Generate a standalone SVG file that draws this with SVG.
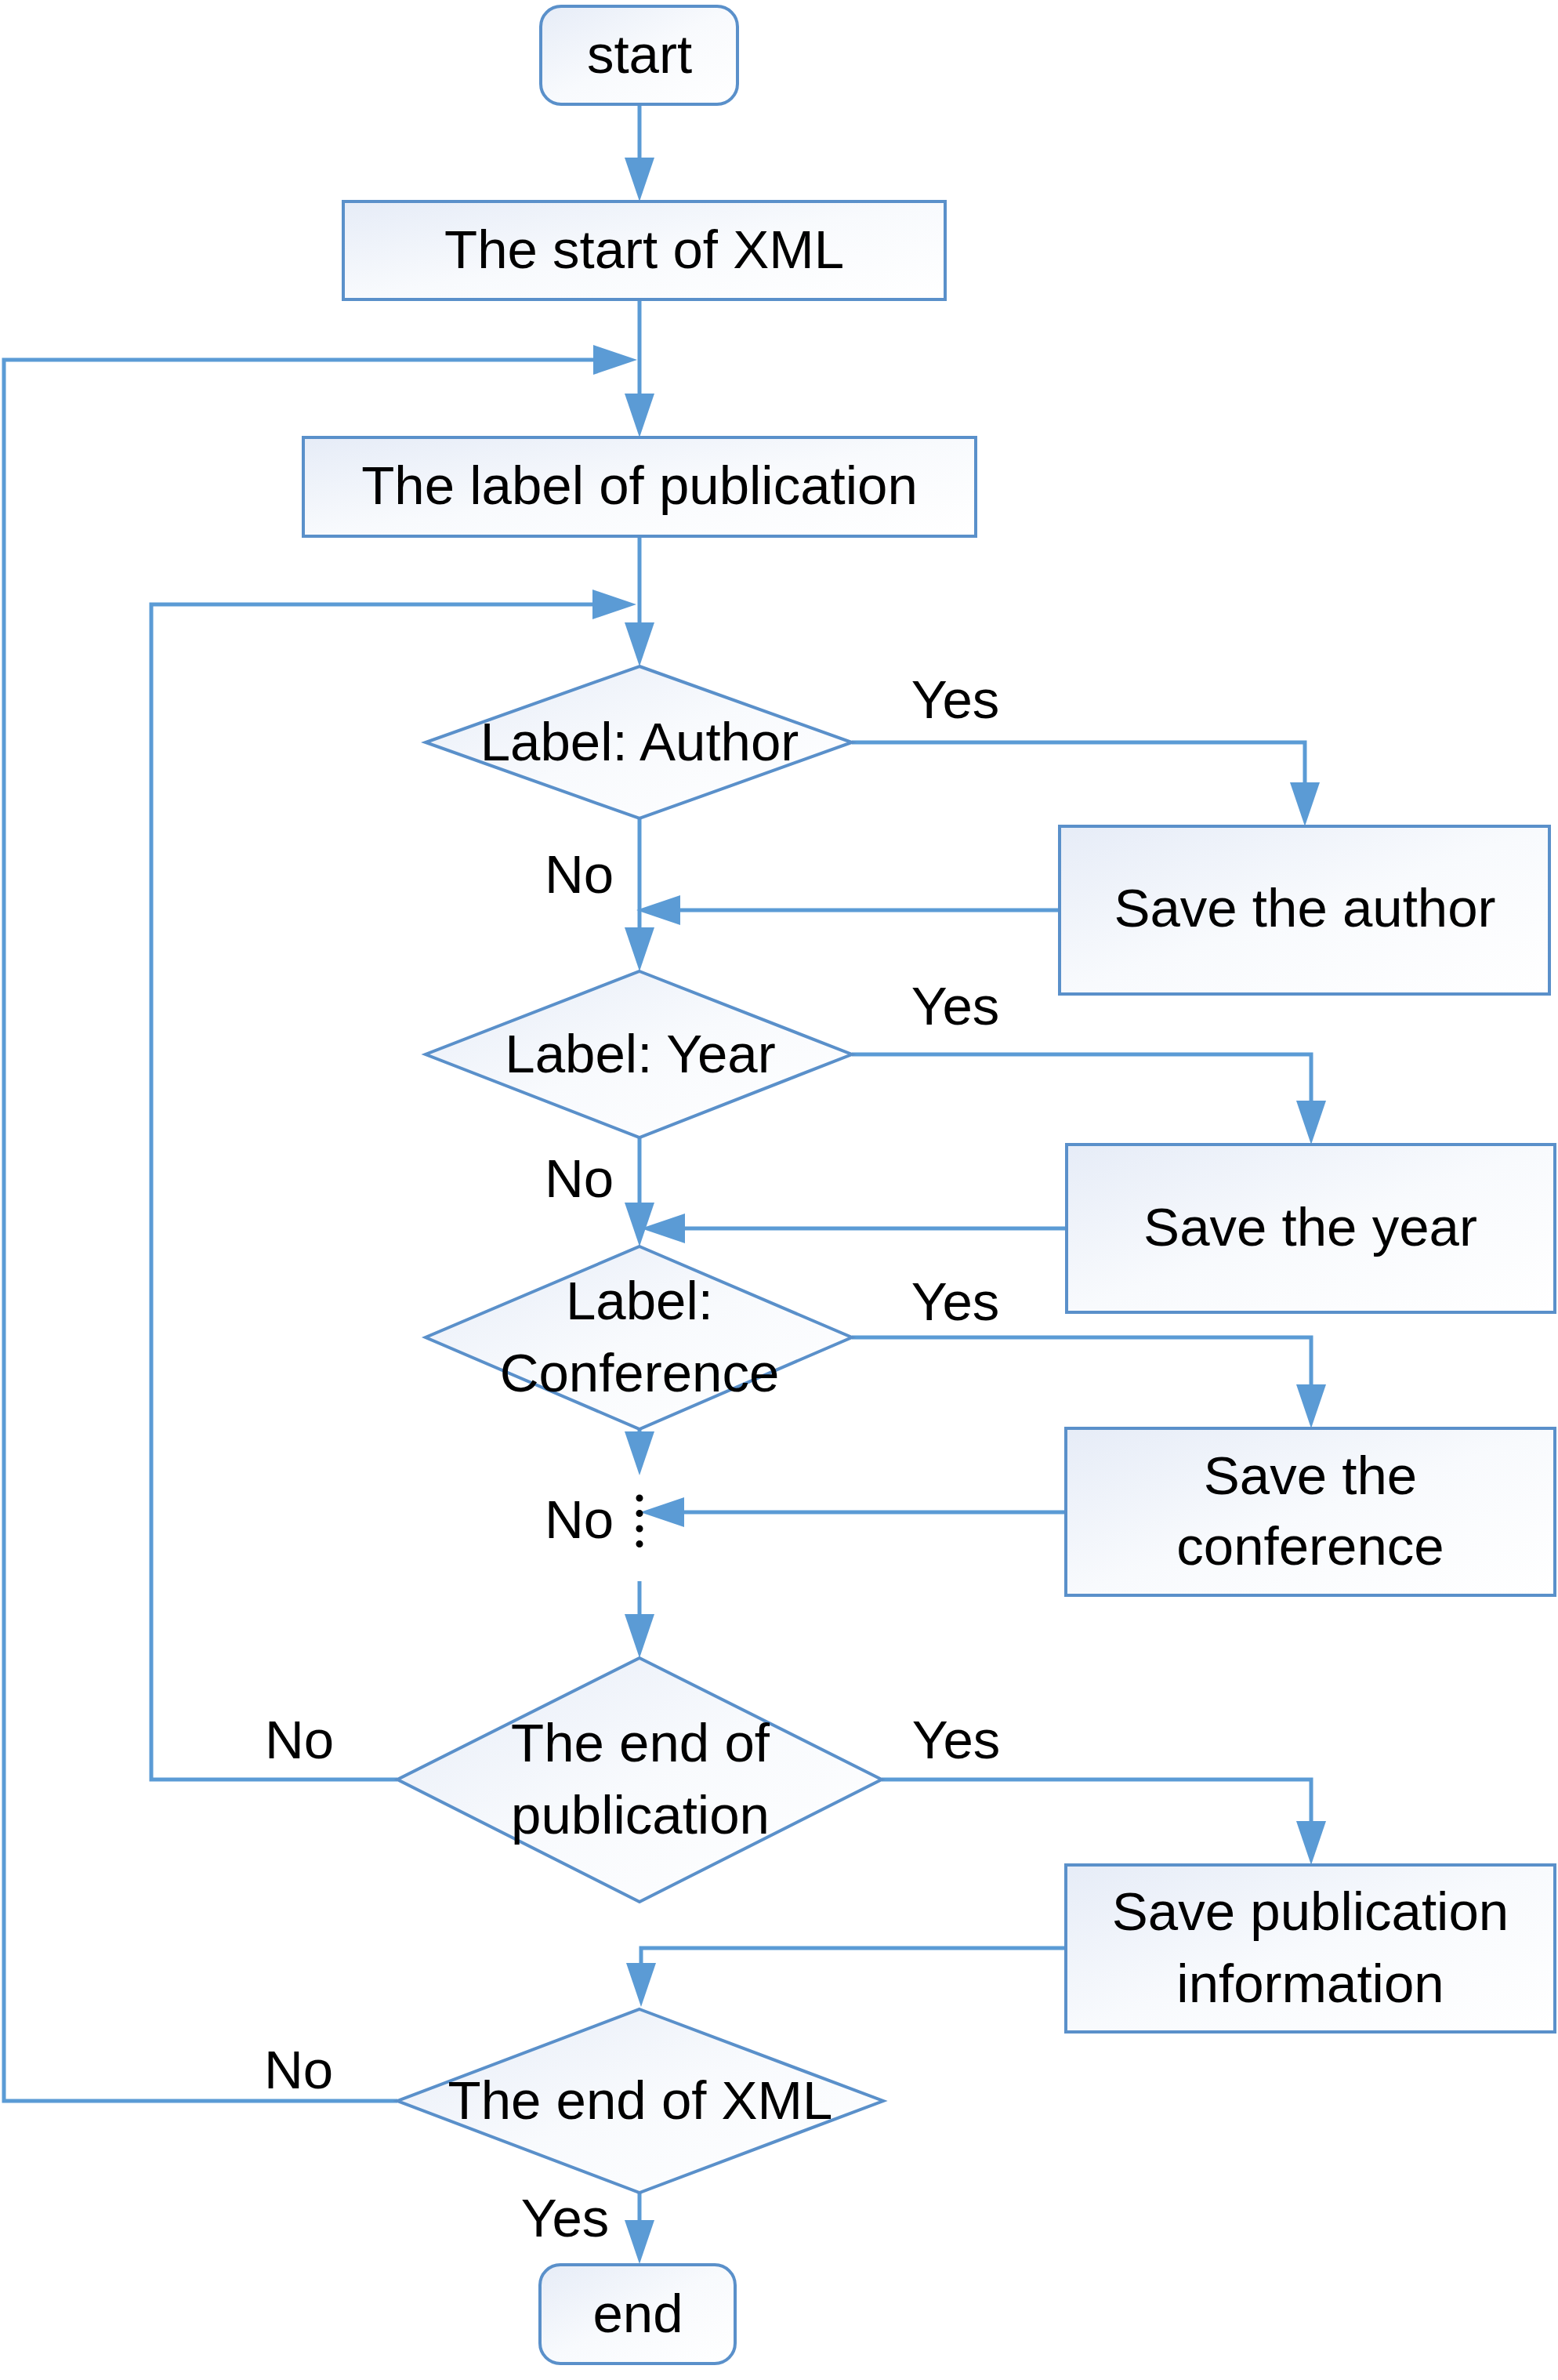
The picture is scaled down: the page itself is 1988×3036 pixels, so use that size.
<svg xmlns="http://www.w3.org/2000/svg" width="1988" height="3036" viewBox="0 0 1988 3036">
<defs>
<linearGradient id="fillg" x1="0" y1="0" x2="1" y2="1">
<stop offset="0" stop-color="#E6ECF7"/>
<stop offset="0.5" stop-color="#F8FAFD"/>
<stop offset="1" stop-color="#FFFFFF"/>
</linearGradient>
<marker id="arr" viewBox="0 0 56 38" refX="36" refY="19" markerWidth="56" markerHeight="38" markerUnits="userSpaceOnUse" orient="auto">
<path d="M0,0 L56,19 L0,38 Z" fill="#5B9BD5"/>
</marker>
</defs>
<style>
.node{fill:url(#fillg);stroke:#5A90CA;stroke-width:4}
.t{font-family:"Liberation Sans",Arial,sans-serif;font-size:69px;fill:#000;text-anchor:middle}
.c{fill:none;stroke:#5B9BD5;stroke-width:5}
.ca{fill:none;stroke:#5B9BD5;stroke-width:5;marker-end:url(#arr)}
</style>
<rect width="1988" height="3036" fill="#FFFFFF"/>

<g id="connectors">
<path class="ca" d="M816,133 V237"/>
<path class="ca" d="M816,382 V538"/>
<path class="ca" d="M507,2680 H5 V459 H793"/>
<path class="ca" d="M816,684 V830"/>
<path class="ca" d="M507,2270 H193 V771 H792"/>
<path class="ca" d="M1087,947 H1665 V1034"/>
<path class="ca" d="M1352,1161 H832"/>
<path class="ca" d="M816,1044 V1219"/>
<path class="ca" d="M1087,1345 H1673 V1440"/>
<path class="ca" d="M1361,1567 H838"/>
<path class="ca" d="M816,1451 V1570"/>
<path class="ca" d="M1087,1706 H1673 V1802"/>
<path class="ca" d="M816,1785 V1862"/>
<path class="ca" d="M1360,1929 H837"/>
<path class="ca" d="M816,2017 V2095"/>
<path class="ca" d="M1125,2270 H1673 V2359"/>
<path class="ca" d="M1360,2485 H818 V2540"/>
<path class="ca" d="M816,2797 V2868"/>
<line x1="816" y1="1911" x2="816" y2="1970" stroke="#000" stroke-width="9" stroke-linecap="round" stroke-dasharray="0 19.5"/>
</g>

<g id="n-start">
<rect class="node" x="690" y="8" width="251" height="125" rx="26"/>
<text class="t" x="816" y="93">start</text>
</g>
<g id="n-xml-start">
<rect class="node" x="438" y="257" width="768" height="125"/>
<text class="t" x="822" y="342">The start of XML</text>
</g>
<g id="n-label-pub">
<rect class="node" x="387" y="558" width="858" height="126"/>
<text class="t" x="816" y="643">The label of publication</text>
</g>
<g id="d-author">
<polygon class="node" points="816,850 1087,947 816,1044 543,947"/>
<text class="t" x="816" y="970">Label: Author</text>
</g>
<g id="n-save-author">
<rect class="node" x="1352" y="1054" width="625" height="214"/>
<text class="t" x="1665" y="1182">Save the author</text>
</g>
<g id="d-year">
<polygon class="node" points="816,1239 1087,1345 816,1451 543,1345"/>
<text class="t" x="817" y="1368">Label: Year</text>
</g>
<g id="n-save-year">
<rect class="node" x="1361" y="1460" width="623" height="214"/>
<text class="t" x="1672" y="1589">Save the year</text>
</g>
<g id="d-conf">
<polygon class="node" points="816,1590 1087,1706 816,1823 543,1706"/>
<text class="t" x="816" y="1683">Label:</text>
<text class="t" x="816" y="1775">Conference</text>
</g>
<g id="n-save-conf">
<rect class="node" x="1360" y="1822" width="624" height="213"/>
<text class="t" x="1672" y="1906">Save the</text>
<text class="t" x="1672" y="1996">conference</text>
</g>
<g id="d-end-pub">
<polygon class="node" points="816,2115 1125,2270 816,2426 507,2270"/>
<text class="t" x="817" y="2247">The end of</text>
<text class="t" x="817" y="2339">publication</text>
</g>
<g id="n-save-pub">
<rect class="node" x="1360" y="2379" width="624" height="213"/>
<text class="t" x="1672" y="2462">Save publication</text>
<text class="t" x="1672" y="2554">information</text>
</g>
<g id="d-end-xml">
<polygon class="node" points="816,2563 1127,2680 816,2797 507,2680"/>
<text class="t" x="817" y="2703">The end of XML</text>
</g>
<g id="n-end">
<rect class="node" x="689" y="2889" width="249" height="126" rx="26"/>
<text class="t" x="814" y="2975">end</text>
</g>

<g id="labels">
<text class="t" x="1219" y="916">Yes</text>
<text class="t" x="739" y="1139">No</text>
<text class="t" x="1219" y="1307">Yes</text>
<text class="t" x="739" y="1527">No</text>
<text class="t" x="1219" y="1684">Yes</text>
<text class="t" x="739" y="1962">No</text>
<text class="t" x="382" y="2243">No</text>
<text class="t" x="1220" y="2243">Yes</text>
<text class="t" x="381" y="2664">No</text>
<text class="t" x="721" y="2853">Yes</text>
</g>
</svg>
